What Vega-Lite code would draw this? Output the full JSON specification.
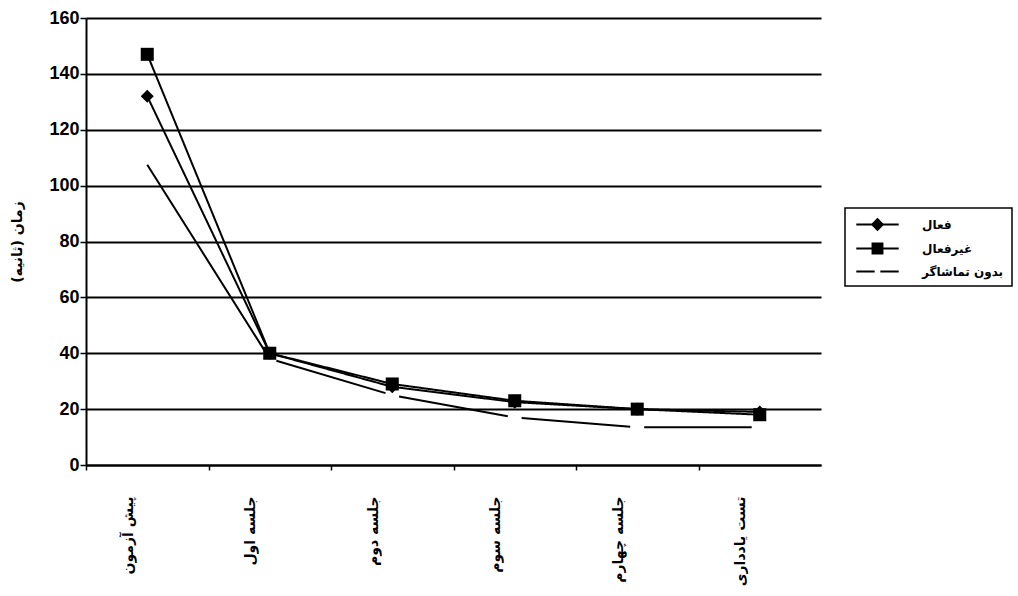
{
  "$schema": "https://vega.github.io/schema/vega-lite/v6.json",
  "autosize": {"type": "none"},
  "padding": {"left": 86, "top": 18, "right": 197, "bottom": 131},
  "width": 735,
  "height": 447,
  "background": "white",
  "config": {
    "view": {"stroke": null},
    "font": "Liberation Sans",
    "legend": {"strokeWidth": 1.5}
  },
  "data": {
    "values": [
      {"session": "پیش آزمون", "group": "فعال", "time": 132},
      {"session": "جلسه اول", "group": "فعال", "time": 40},
      {"session": "جلسه دوم", "group": "فعال", "time": 28},
      {"session": "جلسه سوم", "group": "فعال", "time": 22.5},
      {"session": "جلسه چهارم", "group": "فعال", "time": 20},
      {"session": "تست یادداری", "group": "فعال", "time": 19},
      {"session": "پیش آزمون", "group": "غیرفعال", "time": 147},
      {"session": "جلسه اول", "group": "غیرفعال", "time": 40},
      {"session": "جلسه دوم", "group": "غیرفعال", "time": 29},
      {"session": "جلسه سوم", "group": "غیرفعال", "time": 23},
      {"session": "جلسه چهارم", "group": "غیرفعال", "time": 20},
      {"session": "تست یادداری", "group": "غیرفعال", "time": 18},
      {"session": "پیش آزمون", "group": "بدون تماشاگر", "time": 107.5},
      {"session": "جلسه اول", "group": "بدون تماشاگر", "time": 38},
      {"session": "جلسه دوم", "group": "بدون تماشاگر", "time": 25},
      {"session": "جلسه سوم", "group": "بدون تماشاگر", "time": 17},
      {"session": "جلسه چهارم", "group": "بدون تماشاگر", "time": 13.5},
      {"session": "تست یادداری", "group": "بدون تماشاگر", "time": 13.5}
    ]
  },
  "encoding": {
    "x": {
      "field": "session",
      "type": "nominal",
      "sort": ["پیش آزمون", "جلسه اول", "جلسه دوم", "جلسه سوم", "جلسه چهارم", "تست یادداری"],
      "scale": {"type": "point", "padding": 0.5},
      "axis": {
        "title": null,
        "labelAngle": -90,
        "labelAlign": "right",
        "labelBaseline": "middle",
        "labelPadding": 26,
        "tickOffset": -61.25,
        "labelOffset": 42,
        "labelOverlap": false,
        "labelFlush": false,
        "domainColor": "black",
        "domainWidth": 2,
        "tickColor": "black",
        "tickWidth": 1.5,
        "tickSize": 5,
        "labelFont": "DejaVu Sans",
        "labelFontSize": 14,
        "labelFontWeight": "bold",
        "labelColor": "black",
        "grid": false
      }
    },
    "y": {
      "field": "time",
      "type": "quantitative",
      "scale": {"domain": [0, 160], "nice": false},
      "axis": {
        "title": "زمان (ثانیه)",
        "values": [0, 20, 40, 60, 80, 100, 120, 140, 160],
        "grid": true,
        "gridColor": "black",
        "gridWidth": 2,
        "gridOpacity": 1,
        "domainColor": "black",
        "domainWidth": 2,
        "tickColor": "black",
        "tickSize": 6,
        "tickWidth": 1.5,
        "labelFont": "Liberation Sans",
        "labelFontSize": 18,
        "labelFontWeight": "bold",
        "labelColor": "black",
        "labelPadding": 1,
        "titleFont": "DejaVu Sans",
        "titleFontSize": 14,
        "titleFontWeight": "bold",
        "titleColor": "black",
        "titlePadding": 24
      }
    }
  },
  "layer": [
    {
      "mark": {"type": "line", "strokeWidth": 2},
      "encoding": {
        "strokeDash": {
          "field": "group",
          "type": "nominal",
          "scale": {
            "domain": ["فعال", "غیرفعال", "بدون تماشاگر"],
            "range": [[1, 0], [1, 0], [222.5, 14, 113.8, 14, 110.5, 14, 108.9, 14, 107.5, 100]]
          },
          "legend": null
        },
        "color": {
          "field": "group",
          "type": "nominal",
          "scale": {
            "domain": ["فعال", "غیرفعال", "بدون تماشاگر"],
            "range": ["black", "black", "black"]
          },
          "legend": {
            "title": null,
            "orient": "none",
            "legendX": 759,
            "legendY": 190,
            "strokeColor": "black",
            "padding": 8,
            "rowPadding": 5,
            "symbolSize": 200,
            "symbolOffset": 16,
            "labelOffset": 36,
            "symbolStrokeWidth": 2,
            "labelFont": "DejaVu Sans",
            "labelFontSize": 12,
            "labelFontWeight": "bold",
            "labelColor": "black",
            "encode": {
              "symbols": {
                "update": {
                  "shape": [
                    {"test": "datum.value === 'فعال'", "value": "M-3,0H3M-0.75,0L0,-0.75L0.75,0L0,0.75Z"},
                    {"test": "datum.value === 'غیرفعال'", "value": "M-3,0H3M-0.7,-0.7H0.7V0.7H-0.7Z"},
                    {"value": "M-3,0H-0.4M0.4,0H3"}
                  ],
                  "fill": {"value": "black"},
                  "stroke": {"value": "black"},
                  "strokeWidth": {"value": 2}
                }
              }
            }
          }
        }
      }
    },
    {
      "transform": [{"filter": "datum.group !== 'بدون تماشاگر'"}],
      "mark": {"type": "point", "filled": true, "color": "black", "opacity": 1, "size": 170},
      "encoding": {
        "shape": {
          "field": "group",
          "type": "nominal",
          "scale": {"domain": ["فعال", "غیرفعال"], "range": ["diamond", "square"]},
          "legend": null
        }
      }
    }
  ]
}
